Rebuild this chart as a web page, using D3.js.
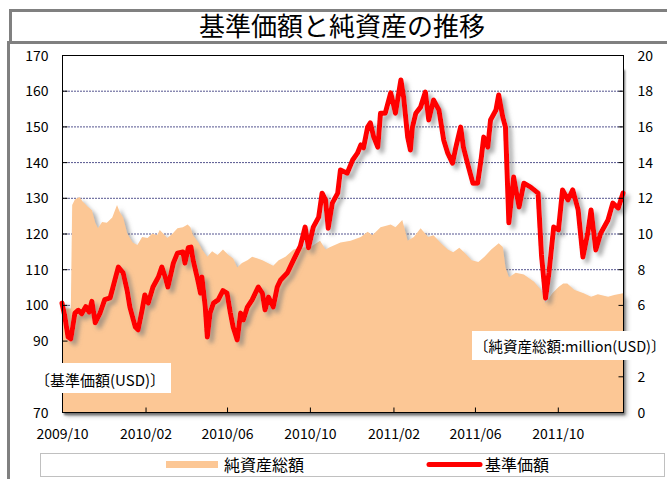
<!DOCTYPE html>
<html>
<head>
<meta charset="utf-8">
<script src="https://cdn.jsdelivr.net/npm/d3@7"></script>
<style>
body { margin: 0; background: #fff; }
svg { display: block; font-family: "Noto Sans CJK JP", "Noto Sans", sans-serif; }
</style>
</head>
<body>
<div id="chart"></div>
<script>
// 基準価額 (USD)
const navDates = ["2009-10-01","2009-10-05","2009-10-10","2009-10-14","2009-10-20","2009-10-25","2009-10-30","2009-11-05","2009-11-10","2009-11-14","2009-11-19","2009-11-26","2009-12-03","2009-12-11","2009-12-18","2009-12-23","2009-12-30","2010-01-05","2010-01-09","2010-01-17","2010-01-21","2010-01-27","2010-01-31","2010-02-05","2010-02-12","2010-02-20","2010-02-25","2010-03-02","2010-03-06","2010-03-14","2010-03-20","2010-03-28","2010-03-31","2010-04-05","2010-04-09","2010-04-12","2010-04-18","2010-04-23","2010-04-25","2010-04-30","2010-05-03","2010-05-07","2010-05-12","2010-05-19","2010-05-26","2010-06-01","2010-06-06","2010-06-10","2010-06-16","2010-06-21","2010-06-25","2010-07-01","2010-07-08","2010-07-17","2010-07-23","2010-07-27","2010-08-01","2010-08-08","2010-08-14","2010-08-19","2010-08-29","2010-09-07","2010-09-17","2010-09-24","2010-09-29","2010-10-06","2010-10-14","2010-10-19","2010-10-24","2010-10-28","2010-11-03","2010-11-11","2010-11-15","2010-11-25","2010-12-03","2010-12-10","2010-12-15","2010-12-19","2010-12-25","2010-12-29","2011-01-03","2011-01-09","2011-01-13","2011-01-20","2011-01-28","2011-02-04","2011-02-12","2011-02-16","2011-02-22","2011-02-26","2011-03-01","2011-03-06","2011-03-13","2011-03-20","2011-03-25","2011-04-01","2011-04-09","2011-04-16","2011-04-22","2011-04-29","2011-05-04","2011-05-11","2011-05-15","2011-05-21","2011-05-29","2011-06-05","2011-06-10","2011-06-14","2011-06-20","2011-06-24","2011-07-02","2011-07-06","2011-07-12","2011-07-16","2011-07-21","2011-07-28","2011-08-05","2011-08-12","2011-08-22","2011-09-02","2011-09-07","2011-09-13","2011-09-18","2011-09-25","2011-10-02","2011-10-08","2011-10-16","2011-10-23","2011-10-31","2011-11-07","2011-11-14","2011-11-19","2011-11-26","2011-12-03","2011-12-14","2011-12-21","2011-12-29","2012-01-05"];
const navValues = [100.5,97,91,90.5,97.7,98.5,97.5,99.5,98,101,95,97.7,101.5,102,107,110.6,109,104,99.4,93.8,93,98.6,102.8,100.5,105,107.8,110.6,107.8,105,111.7,114.5,114.8,111.7,116,116.2,112.6,107.8,103.3,107.8,99.4,91,97.7,100.5,101.4,104,103.3,97.7,93.8,90.2,97.7,95.8,99.4,101.4,105,103.3,98.6,102.2,99.4,105,107,109,112.6,116.5,121.8,116,121.8,124.6,131.3,129.4,121.5,128.5,131.3,137.8,136.9,140.6,142.5,144.8,144,149.8,151,147,144.2,153.7,153.7,159.4,153.7,163,158.2,147,143.4,149.8,153.7,155.4,159.6,151.8,157.4,154.6,146.2,142.5,139.7,144.2,149.8,144.2,139.7,134.1,134.1,140.6,147,144.2,151.8,154.6,158.8,152.6,149.8,123,135.8,127.4,134.1,133,131.3,114,101.9,109,121.8,121,132.2,129.4,132.2,126.6,113.4,120,126.6,115.4,120,123.8,128.5,127.1,131.3];

// 純資産総額 (million USD)
const assetDates = ["2009-10-01","2009-10-14","2009-10-16","2009-10-20","2009-10-27","2009-10-31","2009-11-08","2009-11-14","2009-11-19","2009-11-23","2009-11-29","2009-12-06","2009-12-14","2009-12-21","2009-12-25","2009-12-30","2010-01-05","2010-01-13","2010-01-20","2010-01-27","2010-02-04","2010-02-11","2010-02-18","2010-02-22","2010-03-05","2010-03-13","2010-03-20","2010-03-28","2010-04-04","2010-04-08","2010-04-12","2010-04-20","2010-04-25","2010-05-03","2010-05-10","2010-05-18","2010-05-26","2010-06-03","2010-06-10","2010-06-16","2010-06-23","2010-07-01","2010-07-08","2010-07-16","2010-07-23","2010-07-31","2010-08-08","2010-08-16","2010-08-26","2010-09-07","2010-09-17","2010-10-02","2010-10-16","2010-10-24","2010-10-31","2010-11-15","2010-11-30","2010-12-15","2010-12-25","2011-01-01","2011-01-13","2011-01-28","2011-02-04","2011-02-14","2011-02-22","2011-03-03","2011-03-13","2011-03-24","2011-04-01","2011-04-12","2011-04-22","2011-04-30","2011-05-09","2011-05-16","2011-05-27","2011-06-06","2011-06-15","2011-06-25","2011-07-06","2011-07-12","2011-07-16","2011-07-21","2011-07-31","2011-08-12","2011-08-27","2011-09-06","2011-09-13","2011-09-23","2011-10-02","2011-10-09","2011-10-15","2011-10-25","2011-11-08","2011-11-19","2011-11-29","2011-12-14","2011-12-23","2012-01-05"];
const assetValues = [5.8,5.8,11.6,11.9,12.05,11.8,11.5,11.3,10.6,10.3,10.65,10.6,10.9,11.6,11.2,10.9,10.0,9.5,9.35,9.8,9.75,10.0,9.9,10.2,9.75,10.0,10.3,10.35,10.5,10.35,9.9,9.5,9.1,8.7,9.0,8.8,9.1,8.8,8.6,8.1,8.35,8.5,8.7,8.6,8.5,8.35,8.2,8.5,8.7,9.1,9.2,9.25,9.6,9.1,9.25,9.5,9.6,9.8,10.1,9.9,10.35,10.5,10.35,10.75,9.6,9.8,10.3,9.8,9.9,9.45,9.1,8.95,9.2,8.95,8.5,8.4,8.7,9.1,9.45,9.25,8.1,7.55,7.8,7.7,7.3,6.85,6.1,6.65,7.0,7.2,7.2,6.85,6.65,6.45,6.6,6.45,6.55,6.65];

const xTickDates = ["2009-10-01","2010-02-01","2010-06-01","2010-10-01","2011-02-01","2011-06-01","2011-10-01"];
const xTickLabels = ["2009/10","2010/02","2010/06","2010/10","2011/02","2011/06","2011/10"];
// 80 and 4 sit under the unit-label boxes in the original
const leftTicks = [70,90,100,110,120,130,140,150,160,170];
const rightTicks = [0,2,6,8,10,12,14,16,18,20];
const gridTicks = [80,90,100,110,120,130,140,150,160];

const W = 667, H = 479;
const plot = {x0: 62, x1: 623, y0: 55, y1: 412};
const parse = d3.timeParse("%Y-%m-%d");

const nav = navDates.map((d, i) => ({date: parse(d), v: navValues[i]}));
const assets = assetDates.map((d, i) => ({date: parse(d), v: assetValues[i]}));

const x = d3.scaleTime().domain([parse("2009-10-01"), parse("2012-01-05")]).range([plot.x0, plot.x1]);
const yL = d3.scaleLinear().domain([70, 170]).range([plot.y1, plot.y0]);
const yR = d3.scaleLinear().domain([0, 20]).range([plot.y1, plot.y0]);

const svg = d3.select("#chart").append("svg").attr("width", W).attr("height", H);

const defs = svg.append("defs");
const f = defs.append("filter").attr("id", "shadow")
    .attr("x", "-5%").attr("y", "-5%").attr("width", "115%").attr("height", "115%");
f.append("feDropShadow").attr("dx", 4).attr("dy", 4).attr("stdDeviation", 2)
    .attr("flood-color", "#777").attr("flood-opacity", 0.6);
const fb = defs.append("filter").attr("id", "blur");
fb.append("feGaussianBlur").attr("stdDeviation", 1);

// outer frames
svg.append("rect").attr("x", 8.5).attr("y", 42.5).attr("width", 700).attr("height", 500)
    .attr("fill", "#fff").attr("stroke", "#808080").attr("stroke-width", 3);
svg.append("rect").attr("x", 10.5).attr("y", 10.5).attr("width", 700).attr("height", 32)
    .attr("fill", "#fff").attr("stroke", "#808080").attr("stroke-width", 3);
svg.append("text").attr("x", 342).attr("y", 36).attr("text-anchor", "middle")
    .attr("font-size", 26).attr("fill", "#000").text("基準価額と純資産の推移");

// plot area shadow + background
svg.append("rect").attr("x", plot.x0 + 2).attr("y", plot.y0 + 15)
    .attr("width", plot.x1 - plot.x0).attr("height", plot.y1 - plot.y0 - 12)
    .attr("fill", "#666").attr("filter", "url(#blur)");
svg.append("rect").attr("x", plot.x0).attr("y", plot.y0)
    .attr("width", plot.x1 - plot.x0).attr("height", plot.y1 - plot.y0).attr("fill", "#fff");

// gridlines
svg.append("g").selectAll("line").data(gridTicks).join("line")
    .attr("x1", plot.x0).attr("x2", plot.x1)
    .attr("y1", d => yL(d) + 0.5).attr("y2", d => yL(d) + 0.5)
    .attr("stroke", "#55558f").attr("stroke-width", 1).attr("stroke-dasharray", "2,1");

// net assets area
const area = d3.area().x(d => x(d.date)).y0(plot.y1).y1(d => yR(d.v));
svg.append("path").datum(assets).attr("d", area)
    .attr("fill", "#fcc795").attr("filter", "url(#shadow)");

// nav line
const line = d3.line().x(d => x(d.date)).y(d => yL(d.v));
svg.append("path").datum(nav).attr("d", line)
    .attr("fill", "none").attr("stroke", "#ff0000").attr("stroke-width", 5)
    .attr("stroke-linejoin", "round").attr("stroke-linecap", "round")
    .attr("filter", "url(#shadow)");

// axes
const axL = d3.axisLeft(yL).tickValues(leftTicks).tickSize(-5).tickPadding(14);
const gL = svg.append("g").attr("transform", `translate(${plot.x0 + 0.5},0)`).call(axL);
const axR = d3.axisRight(yR).tickValues(rightTicks).tickSize(-5).tickPadding(14);
const gR = svg.append("g").attr("transform", `translate(${plot.x1 + 0.5},0)`).call(axR);
const axB = d3.axisBottom(x).tickValues(xTickDates.map(parse))
    .tickFormat((d, i) => xTickLabels[i]).tickSize(-5).tickPadding(14);
const gB = svg.append("g").attr("transform", `translate(0,${plot.y1 + 0.5})`).call(axB);
[gL, gR, gB].forEach(g => {
    g.select(".domain").remove();
    g.selectAll("line").attr("stroke", "#000");
    g.selectAll("text").attr("font-size", 14).attr("fill", "#000")
        .attr("font-family", '"Noto Sans CJK JP", sans-serif');
});
gL.selectAll("text").attr("dy", "0.36em");
gR.selectAll("text").attr("dy", "0.36em");
gB.selectAll("text").attr("dy", "0.9em");

// plot frame
svg.append("rect").attr("x", plot.x0 + 0.5).attr("y", plot.y0 + 0.5)
    .attr("width", plot.x1 - plot.x0).attr("height", plot.y1 - plot.y0)
    .attr("fill", "none").attr("stroke", "#000").attr("stroke-width", 1);

// axis unit labels
svg.append("rect").attr("x", 33).attr("y", 363).attr("width", 138).attr("height", 30).attr("fill", "#fff");
svg.append("text").attr("x", 35).attr("y", 386).attr("font-size", 15).text("〔基準価額(USD)〕");
svg.append("rect").attr("x", 472).attr("y", 331).attr("width", 194).attr("height", 29).attr("fill", "#fff");
svg.append("text").attr("x", 474).attr("y", 352).attr("font-size", 14.5)
    .text("〔純資産総額:million(USD)〕");

// legend
svg.append("rect").attr("x", 40.5).attr("y", 453.5).attr("width", 624).attr("height", 23)
    .attr("fill", "#fff").attr("stroke", "#c0c0c0");
svg.append("rect").attr("x", 166).attr("y", 461).attr("width", 52).attr("height", 7).attr("fill", "#fcc795");
svg.append("text").attr("x", 224).attr("y", 471).attr("font-size", 16).text("純資産総額");
svg.append("line").attr("x1", 429).attr("x2", 480).attr("y1", 464.5).attr("y2", 464.5)
    .attr("stroke", "#ff0000").attr("stroke-width", 5).attr("stroke-linecap", "round");
svg.append("text").attr("x", 485).attr("y", 471).attr("font-size", 16).text("基準価額");
</script>
</body>
</html>
